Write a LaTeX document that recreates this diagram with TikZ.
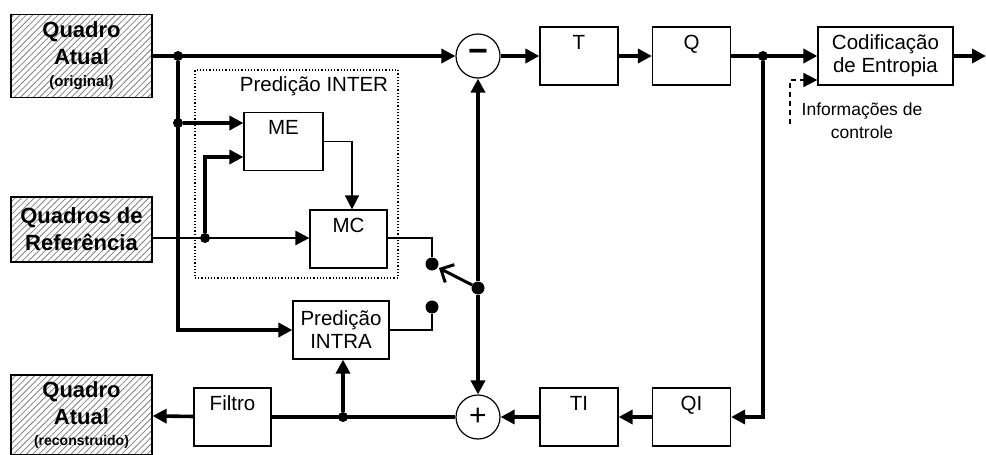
\documentclass[tikz,border=0pt]{standalone}
\usepackage{fontspec}
\setmainfont{Liberation Sans}
\usetikzlibrary{arrows.meta,patterns.meta,positioning}

\begin{document}
\begin{tikzpicture}[x=1pt,y=-1pt,
    font=\fontsize{20.5}{23}\selectfont,
    quadro/.style={draw, line width=1.2pt, pattern={Lines[angle=45,distance=4.5pt,line width=0.8pt]},
      pattern color=black!50, minimum width=141pt, align=center,
      font=\fontsize{22}{27}\selectfont\bfseries},
    blk/.style={draw, line width=1.2pt, fill=white, minimum width=78pt,
      text height=15pt, text depth=29pt, inner ysep=7pt},
    caixa/.style={draw, line width=1.2pt, fill=white, align=center},
    soma/.style={circle, draw, line width=1.2pt, minimum size=44pt, inner sep=0pt, fill=white},
    dot/.style={circle, fill, inner sep=0pt, minimum size=10pt},
    bigdot/.style={circle, fill, inner sep=0pt, minimum size=13pt},
    bus/.style={line width=3.6pt, -{Triangle[length=14pt,width=14pt]}},
    wire/.style={line width=1.6pt}]
    \useasboundingbox (0,0) rectangle (986,455);

    % quadros de entrada e saida
    \node[quadro, minimum height=83pt] (atual) at (81.5,56) {Quadro\\Atual\\[-5pt]{\fontsize{15}{16}\selectfont (original)}};
    \node[quadro, minimum height=65pt] (refs) at (81.5,229.5) {Quadros de\\Referência};
    \node[quadro, minimum height=80pt] (recon) at (81.5,415) {Quadro\\Atual\\[-6pt]{\fontsize{14}{15}\selectfont (reconstruido)}};

    % caminho direto
    \node[soma] (menos) at (478,56) {\fontsize{34}{34}\selectfont\bfseries −};
    \node[blk] (T) at (579,56) {T};
    \node[blk] (Q) at (691.5,56) {Q};
    \node[caixa, minimum width=135pt, minimum height=58pt] (entropia) at (885.5,56) {Codificação\\de Entropia};
    \coordinate (saida) at (986,56);

    % caminho de reconstrucao
    \node[blk] (QI) at (691.5,417) {QI};
    \node[blk] (TI) at (579,417) {TI};
    \node[soma] (mais) at (478,417) {\fontsize{30}{30}\selectfont +};
    \node[blk, minimum width=77pt] (filtro) at (232.5,417) {Filtro};

    % predicao
    \node[draw, dotted, line width=1.2pt, minimum width=203pt, minimum height=208pt] (inter) at (296.5,174) {};
    \node (interlbl) at (314,86) {Predição INTER};
    \node[blk, minimum width=79pt] (ME) at (283.5,141.5) {ME};
    \node[blk, minimum width=77pt] (MC) at (348.5,239) {MC};
    \node[caixa, minimum width=96pt, minimum height=58pt] (intra) at (341,330) {Predição\\INTRA};

    % juncoes e chave
    \node[dot] (j1) at (178,56) {};
    \node[dot] (j2) at (763,56) {};
    \node[dot] (j3) at (343,417) {};
    \node[dot] (j4) at (178,123) {};
    \node[dot] (j5) at (205,238) {};
    \node[bigdot] (piv) at (478,288) {};
    \node[bigdot] (c1) at (432,264) {};
    \node[bigdot] (c2) at (432,307) {};
    \coordinate (lamina) at (439,268);
    \coordinate (ctl) at (790,124);

    \draw[bus] (atual) -- (menos);
    \draw[bus] (menos) -- (T);
    \draw[bus] (T) -- (Q);
    \draw[bus] (Q) -- (entropia);
    \draw[bus] (entropia) -- (saida);
    \draw[bus] (j2) |- (QI);
    \draw[bus] (QI) -- (TI);
    \draw[bus] (TI) -- (mais);
    \draw[line width=3.6pt] (mais) -- (filtro);
    \draw[bus] (filtro) -- (recon);
    \draw[bus] (j3) -- (j3 |- intra.south);
    \draw[bus] (j1) |- (intra);
    \draw[bus] (j4) -- (ME.west |- j4);
    \draw[bus] (j5) |- (ME.west |- 0,157);
    \draw[bus, line width=2.6pt] (refs.east |- j5) -- (MC.west |- j5);
    \draw[wire, -{Triangle[length=14pt,width=14pt]}] (ME.east) -| ([xshift=3.5pt]MC.north);
    \draw[wire] (MC.east |- j5) -| (c1);
    \draw[wire] (intra.east) -| (c2);
    \draw[line width=3pt, -{Straight Barb[length=10pt,width=20pt]}] (piv) -- (lamina);
    \draw[bus] (piv) -- (menos);
    \draw[bus] (piv) -- (mais);
    \draw[wire, dash pattern=on 5pt off 4pt, -{Triangle[length=14pt,width=14pt]}] (ctl) |- (entropia.west |- 0,80);
    \node[font=\fontsize{17.5}{23}\selectfont, align=center] (info) at (862,121) {Informações de\\controle};
\end{tikzpicture}
\end{document}
